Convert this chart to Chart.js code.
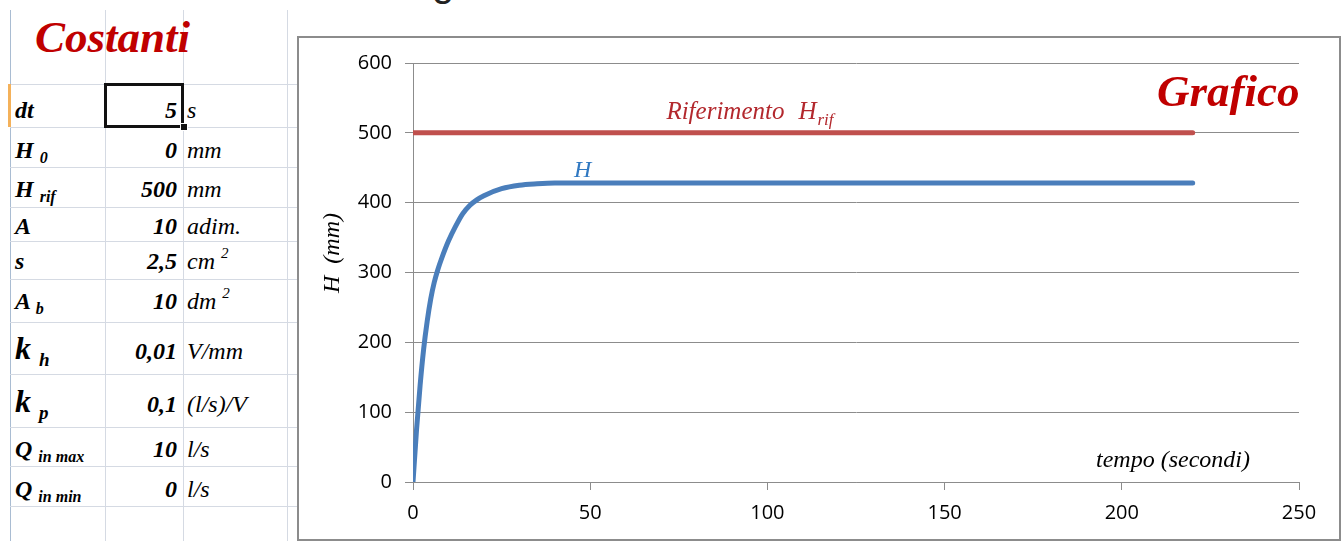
<!DOCTYPE html>
<html lang="it">
<head>
<meta charset="utf-8">
<title>Costanti - Grafico</title>
<script src="https://cdn.jsdelivr.net/npm/chart.js@4.4.1/dist/chart.umd.min.js"></script>
<style>
  html, body { margin: 0; padding: 0; background: #fff; }
  #foglio { position: relative; width: 1341px; height: 541px; overflow: hidden;
            font-family: "Liberation Serif", "Times New Roman", serif; }
  .vl { position: absolute; width: 1px; background: #d5dae3; }
  .hl { position: absolute; height: 1px; background: #d5dae3; }
  .txt { position: absolute; white-space: nowrap; font-style: italic; line-height: 1; color: #000;
         font-family: "Liberation Serif", "Times New Roman", serif; }
  .titolo { color: #c00000; font-weight: bold; font-size: 45px; }
  .pedice { position: relative; font-size: 16px; }
  .apice { position: relative; font-size: 15px; top: -11px; }
  #cornice { position: absolute; left: 297px; top: 36px; width: 1044px; height: 505px;
             box-sizing: border-box; border: 2px solid #8c8c8c; background: #fff; }
  #grafico { position: absolute; left: 0; top: 0; }
</style>
</head>
<body>
<div id="foglio">
  <div id="griglia"></div>
  <div id="tabella"></div>
  <div id="cornice"><canvas id="grafico" width="1040" height="501"></canvas></div>
</div>

<script>
// ---- tabella delle costanti ----
const nomi     = ['dt', 'H', 'H', 'A', 's', 'A', 'k', 'k', 'Q', 'Q'];
const pedici   = ['', '0', 'rif', '', '', 'b', 'h', 'p', 'in max', 'in min'];
const valori   = ['5', '0', '500', '10', '2,5', '10', '0,01', '0,1', '10', '0'];
const unita    = ['s', 'mm', 'mm', 'adim.', 'cm', 'dm', 'V/mm', '(l/s)/V', 'l/s', 'l/s'];
const esponenti = ['', '', '', '', '2', '2', '', '', '', ''];

// ---- dati del grafico ----
const tempo    = [0, 1, 2, 3, 4, 5, 6, 7, 8, 10, 12, 14, 16, 18, 20, 25, 30, 35, 40, 50, 60, 80, 100, 120, 140, 160, 180, 200, 220];
const livelloH = [0, 75, 138, 190, 230, 262, 286, 304, 319, 345, 366, 384, 396, 404, 410, 420, 425, 427, 428, 428, 428, 428, 428, 428, 428, 428, 428, 428, 428];
const tempoRif   = [0, 220];
const livelloRif = [500, 500];
const tickX = { min: 0, max: 250, passo: 50 };
const tickY = { min: 0, max: 600, passo: 100 };

// righe e colonne del foglio
const righe   = [84, 127, 167, 207, 241, 279, 322, 374, 427, 466, 506];
const colonne = [105, 183, 287];
const basi    = [118, 158, 197, 234, 269, 309, 359, 412, 457, 497];

const griglia = document.getElementById('griglia');
const tabella = document.getElementById('tabella');

function linea(cls, stile) {
    const d = document.createElement('div');
    d.className = cls;
    Object.assign(d.style, stile);
    griglia.appendChild(d);
    return d;
}

colonne.forEach(function (x) {
    linea('vl', { left: x + 'px', top: '10px', height: '531px' });
});
linea('vl', { left: '10px', top: '10px', height: '531px', background: '#a9bcd2' });
righe.forEach(function (y) {
    linea('hl', { left: '10px', top: y + 'px', width: '287px' });
});
// segno arancio della riga attiva
linea('vl', { left: '8px', top: '84px', height: '43px', width: '3px', background: '#f4b15a' });

// testo con la linea di base alla quota y (Liberation Serif, line-height 1)
function testo(html, x, base, size, extra) {
    const d = document.createElement('div');
    d.className = 'txt';
    d.innerHTML = html;
    d.style.fontSize = size + 'px';
    d.style.top = (base - 0.8375 * size) + 'px';
    if (extra && extra.destra !== undefined) {
        d.style.right = (1341 - extra.destra) + 'px';
    } else {
        d.style.left = x + 'px';
    }
    if (extra && extra.bold) d.style.fontWeight = 'bold';
    tabella.appendChild(d);
    return d;
}

const titolo = testo('Costanti', 35, 53, 45, { bold: true });
titolo.classList.add('titolo');
const titolo2 = testo('Grafico', 1157, 107, 45, { bold: true });
titolo2.classList.add('titolo');
titolo2.style.zIndex = 5;

nomi.forEach(function (nome, i) {
    const grande = nome === 'k';
    let html = nome;
    if (pedici[i]) {
        const sz = grande ? 19 : 16;
        const giu = grande ? 7 : 5;
        html += ' <span class="pedice" style="font-size:' + sz + 'px;top:' + giu + 'px">' + pedici[i] + '</span>';
    }
    testo(html, 15, basi[i], grande ? 32 : 24, { bold: true });
    testo(valori[i], 0, basi[i], 24, { bold: true, destra: 177 });
    let u = unita[i];
    if (esponenti[i]) u += ' <span class="apice">' + esponenti[i] + '</span>';
    testo(u, 187, basi[i], 24);
});

// cella selezionata (dt)
const sel = document.createElement('div');
Object.assign(sel.style, { position: 'absolute', left: '104px', top: '83px', width: '80px', height: '45px',
    boxSizing: 'border-box', border: '3px solid #111' });
tabella.appendChild(sel);
const maniglia = document.createElement('div');
Object.assign(maniglia.style, { position: 'absolute', left: '181px', top: '124px', width: '6px', height: '6px',
    background: '#111', outline: '1px solid #fff' });
tabella.appendChild(maniglia);

// coda di una lettera del titolo tagliato in alto
const coda = document.createElement('div');
coda.textContent = 'g';
Object.assign(coda.style, { position: 'absolute', left: '432px', top: '-38px', fontSize: '40px',
    lineHeight: '1', fontFamily: '"Liberation Sans", sans-serif', color: '#222' });
griglia.appendChild(coda);

// ---- scritte dentro il grafico ----
const SERIF = '"Liberation Serif", "Times New Roman", serif';
const scritte = {
    id: 'scritte',
    afterDatasetsDraw(chart) {
        const ctx = chart.ctx;
        const area = chart.chartArea;
        const sx = chart.scales.x;
        const sy = chart.scales.y;
        ctx.save();
        ctx.textBaseline = 'alphabetic';

        // etichetta del riferimento
        ctx.fillStyle = '#b3282d';
        ctx.font = 'italic 25px ' + SERIF;
        let px = sx.getPixelForValue(71.5);
        const by = sy.getPixelForValue(livelloRif[0]) - 14;
        ctx.textAlign = 'left';
        ctx.fillText('Riferimento', px, by);
        px += ctx.measureText('Riferimento').width + 14;
        ctx.fillText('H', px, by);
        px += ctx.measureText('H').width + 1;
        ctx.font = 'italic 17px ' + SERIF;
        ctx.fillText('rif', px, by + 6);

        // etichetta della serie H
        ctx.fillStyle = '#3179c2';
        ctx.font = 'italic 24px ' + SERIF;
        ctx.fillText('H', sx.getPixelForValue(45.4), sy.getPixelForValue(428) - 6);

        // titolo asse x
        ctx.fillStyle = '#000';
        ctx.font = 'italic 24px ' + SERIF;
        ctx.textAlign = 'right';
        ctx.fillText('tempo (secondi)', area.right - 49, area.bottom - 15);

        // titolo asse y
        ctx.translate(area.left - 80, area.top + 190);
        ctx.rotate(-Math.PI / 2);
        ctx.textAlign = 'center';
        ctx.textBaseline = 'middle';
        ctx.fillText('H  (mm)', 0, 0);
        ctx.restore();
    }
};

const punti = function (xs, ys) {
    return xs.map(function (x, i) { return { x: x, y: ys[i] }; });
};

const fontTick = { family: '"Open Sans", sans-serif', size: 20 };

new Chart(document.getElementById('grafico').getContext('2d'), {
    type: 'line',
    data: {
        datasets: [
            {
                label: 'Riferimento Hrif',
                data: punti(tempoRif, livelloRif),
                borderColor: '#c0504d',
                borderWidth: 5,
                borderCapStyle: 'round',
                pointRadius: 0
            },
            {
                label: 'H',
                data: punti(tempo, livelloH),
                borderColor: '#4a7ebb',
                borderWidth: 5,
                borderCapStyle: 'round',
                cubicInterpolationMode: 'monotone',
                pointRadius: 0
            }
        ]
    },
    options: {
        responsive: false,
        animation: false,
        devicePixelRatio: 1,
        layout: { padding: { top: 24, right: 40, left: 0, bottom: 0 } },
        plugins: { legend: { display: false }, tooltip: { enabled: false } },
        scales: {
            x: {
                type: 'linear',
                min: tickX.min, max: tickX.max,
                ticks: { stepSize: tickX.passo, color: '#000', font: fontTick, padding: 11, maxRotation: 0 },
                grid: { drawOnChartArea: false, color: '#8c8c8c', tickLength: 8 },
                border: { color: '#8c8c8c', width: 1 },
                afterFit: function (s) { s.height = 57; }
            },
            y: {
                min: tickY.min, max: tickY.max,
                ticks: { stepSize: tickY.passo, color: '#000', font: fontTick, padding: 13 },
                grid: { color: '#8c8c8c', lineWidth: 1, tickLength: 8 },
                border: { color: '#8c8c8c', width: 1 },
                afterFit: function (s) { s.width = 114; }
            }
        }
    },
    plugins: [scritte]
});
</script>
</body>
</html>
